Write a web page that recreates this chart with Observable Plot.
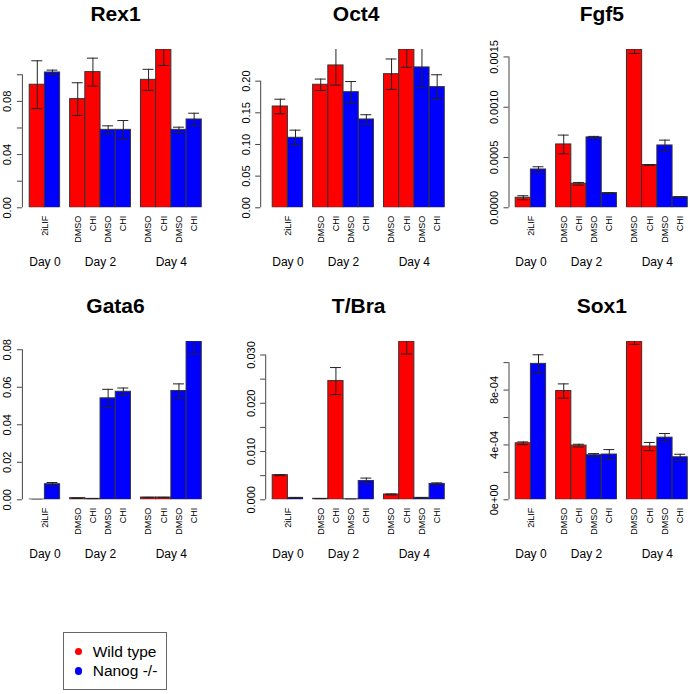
<!DOCTYPE html>
<html><head><meta charset="utf-8">
<script src="https://cdn.jsdelivr.net/npm/d3@7"></script>
<script src="https://cdn.jsdelivr.net/npm/@observablehq/plot@0.6"></script>
<style>
html,body{margin:0;padding:0;background:#fff;overflow:hidden}
#root{position:relative;width:690px;height:694px;overflow:hidden;font-family:"Liberation Sans",Arial,Helvetica,sans-serif}
.panel{position:absolute;width:243px;height:292px}
.panel svg{overflow:visible;display:block;max-width:none !important;width:243px;height:292px}
#legend{position:absolute;left:63px;top:632px;width:104px;height:58px;box-sizing:border-box;border:1px solid #666;background:#fff}
#legend .item{position:absolute;left:0;height:19px;line-height:19px;font-size:15.5px;white-space:nowrap}
#legend .dot{position:absolute;left:10.5px;top:6px;width:7.4px;height:7.4px;border-radius:50%}
#legend .lab{position:absolute;left:28.7px;top:0}
</style>
</head><body>
<div id="root"></div>
<script>
// ---- data ----
const genes = ["Rex1", "Oct4", "Fgf5", "Gata6", "T/Bra", "Sox1"];
const days = ["Day 0", "Day 2", "Day 4"];
const slotDay = ["Day 0","Day 0","Day 2","Day 2","Day 2","Day 2","Day 4","Day 4","Day 4","Day 4"];
const slotGenotype = ["Wild type","Nanog -/-","Wild type","Wild type","Nanog -/-","Nanog -/-","Wild type","Wild type","Nanog -/-","Nanog -/-"];
const slotTreatment = ["2iLIF","2iLIF","DMSO","CHI","DMSO","CHI","DMSO","CHI","DMSO","CHI"];
const genotypes = ["Wild type", "Nanog -/-"];
const genotypeColors = ["#ff0000", "#0000ff"];

const rex1Mean = [0.0925, 0.1017, 0.0817, 0.1020, 0.0586, 0.0586, 0.0962, 0.1190, 0.0586, 0.0664];
const rex1Err  = [0.0180, 0.0018, 0.0123, 0.0105, 0.0030, 0.0070, 0.0079, 0.0120, 0.0020, 0.0047];
const oct4Mean = [0.1600, 0.1106, 0.1943, 0.2248, 0.1826, 0.1395, 0.2110, 0.2500, 0.2217, 0.1906];
const oct4Err  = [0.0115, 0.0120, 0.0090, 0.0310, 0.0168, 0.0075, 0.0240, 0.0280, 0.0320, 0.0195];
const fgf5Mean = [0.000100, 0.000381, 0.000630, 0.000239, 0.000700, 0.000146, 0.001574, 0.000425, 0.000620, 0.000106];
const fgf5Err  = [0.000020, 0.000027, 0.000093, 0.000013, 0.000010, 0.000003, 0.000040, 0.000003, 0.000053, 0.000002];
const gata6Mean = [0.0001, 0.0083, 0.00085, 0.0005, 0.0541, 0.0576, 0.0012, 0.0012, 0.0580, 0.0844];
const gata6Err  = [0.00002, 0.0009, 0.0001, 0.0001, 0.0048, 0.0020, 0.0001, 0.0001, 0.0038, 0.0067];
const tbraMean = [0.0051, 0.0004, 0.0002, 0.0246, 0.0001, 0.0039, 0.0011, 0.0328, 0.0004, 0.0033];
const tbraErr  = [0.0001, 0.00005, 0.00003, 0.0028, 0.00002, 0.0006, 0.0001, 0.0026, 0.00003, 0.0002];
const sox1Mean = [0.000412, 0.000991, 0.000793, 0.000395, 0.000325, 0.000330, 0.001154, 0.000388, 0.000453, 0.000310];
const sox1Err  = [0.000010, 0.000066, 0.000052, 0.000010, 0.000012, 0.000036, 0.000020, 0.000030, 0.000030, 0.000022];

const rex1Ticks = [0, 0.02, 0.04, 0.06, 0.08, 0.10];
const rex1TickLabels = ["0.00", "", "0.04", "", "0.08", ""];
const oct4Ticks = [0, 0.05, 0.10, 0.15, 0.20];
const oct4TickLabels = ["0.00", "0.05", "0.10", "0.15", "0.20"];
const fgf5Ticks = [0, 0.0005, 0.0010, 0.0015];
const fgf5TickLabels = ["0.0000", "0.0005", "0.0010", "0.0015"];
const gata6Ticks = [0, 0.02, 0.04, 0.06, 0.08];
const gata6TickLabels = ["0.00", "0.02", "0.04", "0.06", "0.08"];
const tbraTicks = [0, 0.005, 0.010, 0.015, 0.020, 0.025, 0.030];
const tbraTickLabels = ["0.000", "", "0.010", "", "0.020", "", "0.030"];
const sox1Ticks = [0, 0.0002, 0.0004, 0.0006, 0.0008, 0.0010];
const sox1TickLabels = ["0e+00", "", "4e-04", "", "8e-04", ""];

// ---- layout (styling only) ----
const PANEL_W = 243, PANEL_H = 292;
const BAR_LEFT = 29.2, UNIT = 15.2, GROUP_GAP = 0.66, CAP_HALF = 0.36;
const PLOT_TOP = 49, PLOT_BOTTOM = 207.3;
const FONT = "Liberation Sans, Arial, Helvetica, sans-serif";

const panels = [
  {name: genes[0], mean: rex1Mean, err: rex1Err, ticks: rex1Ticks, labels: rex1TickLabels, axisGap: 7.3, col: 0, row: 0},
  {name: genes[1], mean: oct4Mean, err: oct4Err, ticks: oct4Ticks, labels: oct4TickLabels, axisGap: 12, col: 1, row: 0},
  {name: genes[2], mean: fgf5Mean, err: fgf5Err, ticks: fgf5Ticks, labels: fgf5TickLabels, axisGap: 6.7, col: 2, row: 0},
  {name: genes[3], mean: gata6Mean, err: gata6Err, ticks: gata6Ticks, labels: gata6TickLabels, axisGap: 7.3, col: 0, row: 1},
  {name: genes[4], mean: tbraMean, err: tbraErr, ticks: tbraTicks, labels: tbraTickLabels, axisGap: 7, col: 1, row: 1},
  {name: genes[5], mean: sox1Mean, err: sox1Err, ticks: sox1Ticks, labels: sox1TickLabels, axisGap: 6.7, col: 2, row: 1}
];

function buildRows(mean, err) {
  return mean.map((m, i) => {
    const g = days.indexOf(slotDay[i]);
    const x0 = i + g * GROUP_GAP;
    return {
      day: slotDay[i], genotype: slotGenotype[i], treatment: slotTreatment[i],
      mean: m, lo: m - err[i], hi: m + err[i],
      x0, x1: x0 + 1, xc: x0 + 0.5, c1: x0 + 0.5 - CAP_HALF, c2: x0 + 0.5 + CAP_HALF
    };
  });
}

function buildLabels(rows) {
  const xl = [], dl = [];
  for (const day of days) {
    const grp = rows.filter(r => r.day === day);
    const center = d3.mean(grp, r => r.xc);
    dl.push({x: center, text: day});
    const uniq = new Set(grp.map(r => r.treatment));
    if (uniq.size === 1) xl.push({x: center, text: grp[0].treatment});
    else grp.forEach(r => xl.push({x: r.xc, text: r.treatment}));
  }
  return [xl, dl];
}

const root = document.getElementById("root");

for (const p of panels) {
  const rows = buildRows(p.mean, p.err);
  const [xLabels, dayLabels] = buildLabels(rows);
  const total = d3.max(rows, r => r.x1);
  const padL = p.axisGap / UNIT;
  const padR = 0.04 * total;
  const marginLeft = BAR_LEFT - p.axisGap;
  const innerW = (total + padL + padR) * UNIT;
  const topTick = p.ticks[p.ticks.length - 1];
  const fmt = d => {
    const i = p.ticks.findIndex(t => Math.abs(t - d) < 1e-12);
    return i < 0 ? "" : p.labels[i];
  };
  const chart = Plot.plot({
    width: PANEL_W,
    height: PANEL_H,
    marginLeft,
    marginRight: PANEL_W - marginLeft - innerW,
    marginTop: PLOT_TOP,
    marginBottom: PANEL_H - PLOT_BOTTOM,
    x: {domain: [-padL, total + padR], axis: null},
    y: {domain: [0, d3.max(p.mean)], axis: null},
    color: {domain: genotypes, range: genotypeColors},
    style: {fontFamily: FONT, background: "transparent", overflow: "visible", color: "#000", maxWidth: "none"},
    marks: [
      Plot.rect(rows, {x1: "x0", x2: "x1", y1: 0, y2: "mean", fill: "genotype", stroke: "#333", strokeWidth: 1, clip: true}),
      Plot.ruleX(rows, {x: "xc", y1: "lo", y2: "hi", stroke: "#222", strokeWidth: 1, clip: true}),
      Plot.ruleY(rows, {y: "hi", x1: "c1", x2: "c2", stroke: "#222", strokeWidth: 1, clip: true}),
      Plot.ruleY(rows, {y: "lo", x1: "c1", x2: "c2", stroke: "#222", strokeWidth: 1, clip: true}),
      Plot.ruleX([-padL], {y1: 0, y2: topTick, stroke: "#444", strokeWidth: 1}),
      Plot.axisY({ticks: p.ticks, tickSize: 5, tickPadding: 6, tickRotate: -90, textAnchor: "middle", lineAnchor: "bottom",
        tickFormat: fmt, fontSize: 11, label: null, stroke: "#444"}),
      Plot.text(xLabels, {x: "x", text: "text", frameAnchor: "bottom", dy: 8, rotate: -90, textAnchor: "end", lineAnchor: "middle", fontSize: 9}),
      Plot.text(dayLabels, {x: "x", text: "text", frameAnchor: "bottom", dy: 54.5, lineAnchor: "middle", fontSize: 12}),
      Plot.text([p.name], {text: d => d, frameAnchor: "top", dy: -(PLOT_TOP - 20.7), lineAnchor: "bottom", fontSize: 21, fontWeight: "bold"})
    ]
  });
  const div = document.createElement("div");
  div.className = "panel";
  div.style.left = (p.col * PANEL_W) + "px";
  div.style.top = (p.row * PANEL_H) + "px";
  div.appendChild(chart);
  root.appendChild(div);
}

// legend
const legend = document.createElement("div");
legend.id = "legend";
genotypes.forEach((g, i) => {
  const item = document.createElement("div");
  item.className = "item";
  item.style.top = (9 + i * 19.3) + "px";
  const dot = document.createElement("span");
  dot.className = "dot";
  dot.style.background = genotypeColors[i];
  const lab = document.createElement("span");
  lab.className = "lab";
  lab.textContent = g;
  item.appendChild(dot);
  item.appendChild(lab);
  legend.appendChild(item);
});
root.appendChild(legend);
</script>
</body></html>
